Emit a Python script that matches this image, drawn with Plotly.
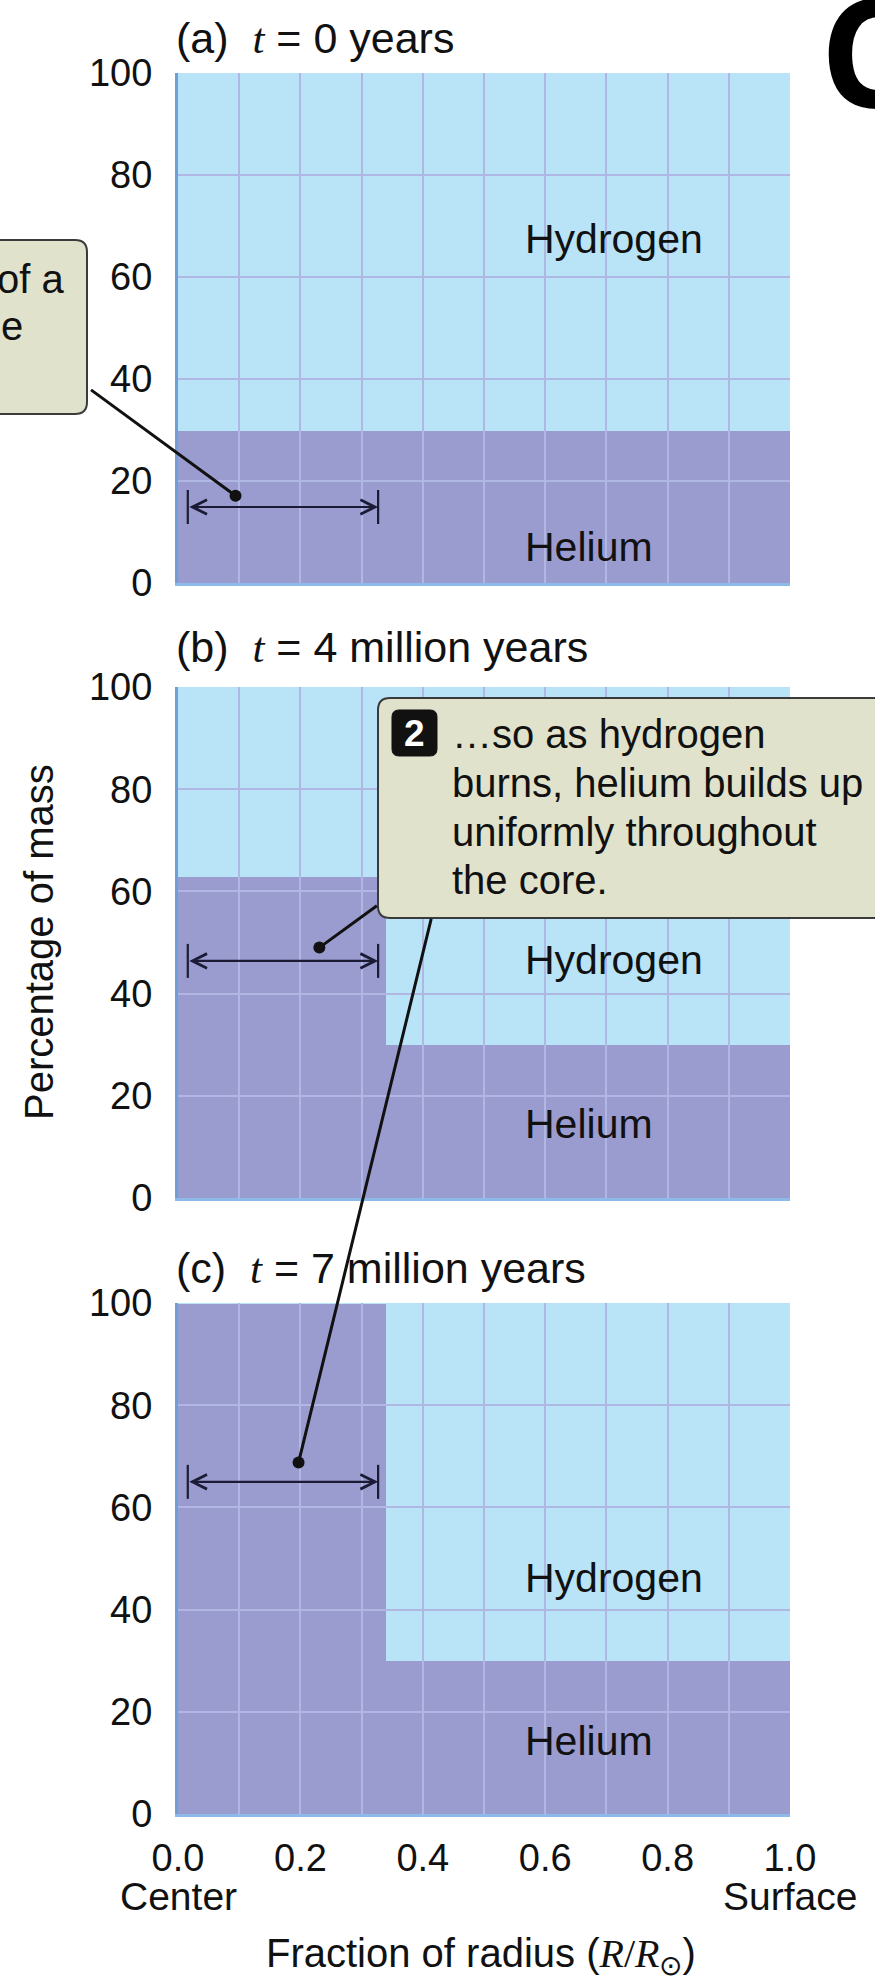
import plotly.graph_objects as go

# ---------------- data ----------------
panel_letters = ["(a)", "(b)", "(c)"]
panel_times = ["0 years", "4 million years", "7 million years"]
region_edges = [[0.0, 1.0], [0.0, 0.34, 1.0], [0.0, 0.34, 1.0]]   # fraction of radius
helium_pct = [[30], [63, 30], [100, 30]]
hydrogen_pct = [[70], [37, 70], [0, 70]]

x_tickvals = [0.0, 0.2, 0.4, 0.6, 0.8, 1.0]
x_ticktext = ["0.0", "0.2", "0.4", "0.6", "0.8", "1.0"]
x_end_labels = ["Center", "Surface"]
y_tickvals = [0, 20, 40, 60, 80, 100]
x_gridvals = [0.1, 0.2, 0.3, 0.4, 0.5, 0.6, 0.7, 0.8, 0.9]
y_gridvals = [20, 40, 60, 80]

core_arrow_x = [0.016, 0.327]
core_arrow_y = [14.9, 46.4, 65.0]
pointer_x = [0.094, 0.231, 0.197]
pointer_y = [17.1, 49.0, 68.8]

label_x = 0.564
hydrogen_label_y = [67.4, 46.6, 46.2]
helium_label_y = [7.1, 14.5, 14.3]

callout_lines = ["\u2026so as hydrogen", "burns, helium builds up",
                 "uniformly throughout", "the core."]

# ---------------- layout geometry ----------------
W, H = 875, 1986
ML, MR, MT, MB = 178, 85, 73, 172
PW = W - ML - MR
PH = H - MT - MB
BASE = H - MB
panel_top_px = [73, 687, 1303]
panel_bot_px = [583, 1198, 1814]
title_y_px = [38, 647, 1268]


def pxx(x):
    return (x - ML) / PW


def pyy(y):
    return (BASE - y) / PH


HYDROGEN = "#b9e3f7"
HELIUM = "#9a9bcf"
GRID = "#b0b7e2"
YLINE = "#6f9fd8"
XLINE = "#8dbbe9"
BOX_FILL = "#e1e2cb"
BOX_EDGE = "#3b3b3b"
INK = "#111111"
ARROW = "#1b1b35"
FONT = "Liberation Sans, Arial, Helvetica, sans-serif"


def rounded_rect(x0, y0, x1, y1, r):
    pts = [
        ("M", (x0 + r, y0)), ("L", (x1 - r, y0)), ("Q", (x1, y0), (x1, y0 + r)),
        ("L", (x1, y1 - r)), ("Q", (x1, y1), (x1 - r, y1)),
        ("L", (x0 + r, y1)), ("Q", (x0, y1), (x0, y1 - r)),
        ("L", (x0, y0 + r)), ("Q", (x0, y0), (x0 + r, y0)),
    ]
    s = ""
    for seg in pts:
        cmd = seg[0]
        coords = " ".join(f"{pxx(p[0]):.5f},{pyy(p[1]):.5f}" for p in seg[1:])
        s += f"{cmd}{coords} "
    return s + "Z"


fig = go.Figure()

for i in range(3):
    sfx = "" if i == 0 else str(i + 1)
    edges = region_edges[i]
    centers = [(a + b) / 2 for a, b in zip(edges[:-1], edges[1:])]
    widths = [b - a for a, b in zip(edges[:-1], edges[1:])]
    fig.add_trace(go.Bar(x=centers, y=helium_pct[i], width=widths, name="Helium",
                         marker=dict(color=HELIUM, line=dict(color=HELIUM, width=1)),
                         xaxis="x" + sfx, yaxis="y" + sfx, showlegend=False, hoverinfo="skip"))
    fig.add_trace(go.Bar(x=centers, y=hydrogen_pct[i], width=widths, name="Hydrogen",
                         marker=dict(color=HYDROGEN, line=dict(color=HYDROGEN, width=1)),
                         xaxis="x" + sfx, yaxis="y" + sfx, showlegend=False, hoverinfo="skip"))

# empty overlay subplots that carry the grid above the filled regions
for i in range(3):
    g = str(i + 4)
    fig.add_trace(go.Scatter(x=[], y=[], xaxis="x" + g, yaxis="y" + g,
                             showlegend=False, hoverinfo="skip"))

layout = dict(
    width=W, height=H, margin=dict(l=ML, r=MR, t=MT, b=MB, autoexpand=False),
    paper_bgcolor="white", plot_bgcolor="rgba(0,0,0,0)", barmode="stack",
    showlegend=False, hovermode=False, font=dict(family=FONT, color=INK),
)

tickfont = dict(family=FONT, size=38, color=INK)
for i in range(3):
    sfx = "" if i == 0 else str(i + 1)
    dom_y = [pyy(panel_bot_px[i]), pyy(panel_top_px[i])]
    layout["xaxis" + sfx] = dict(
        domain=[0, 1], range=[0, 1], anchor="y" + sfx, showgrid=False, zeroline=False,
        showline=True, linecolor=XLINE, linewidth=3, ticks="", tickmode="array",
        tickvals=x_tickvals, ticktext=x_ticktext, showticklabels=(i == 2),
        tickfont=tickfont, ticklabelstandoff=8, fixedrange=True)
    layout["yaxis" + sfx] = dict(
        domain=dom_y, range=[0, 100], anchor="x" + sfx, showgrid=False, zeroline=False,
        showline=True, linecolor=YLINE, linewidth=3, ticks="", tickmode="array",
        tickvals=y_tickvals, tickfont=tickfont, ticklabelstandoff=15, fixedrange=True)
    g = str(i + 4)
    layout["xaxis" + g] = dict(
        domain=[0, 1], range=[0, 1], anchor="y" + g, showgrid=True, gridcolor=GRID,
        gridwidth=2, tickmode="array", tickvals=x_gridvals, showticklabels=False,
        ticks="", zeroline=False, showline=False, fixedrange=True)
    layout["yaxis" + g] = dict(
        domain=dom_y, range=[0, 100], anchor="x" + g, showgrid=True, gridcolor=GRID,
        gridwidth=2, tickmode="array", tickvals=y_gridvals, showticklabels=False,
        ticks="", zeroline=False, showline=False, fixedrange=True)

shapes = []
annotations = []

# core-size double arrows with end bars
for i in range(3):
    sfx = "" if i == 0 else str(i + 1)
    for xv in core_arrow_x:
        shapes.append(dict(type="line", xref="x" + sfx, yref="y" + sfx,
                           x0=xv, x1=xv, ysizemode="pixel", yanchor=core_arrow_y[i],
                           y0=-17, y1=17, line=dict(color=ARROW, width=2.2)))
    annotations.append(dict(
        xref="x" + sfx, yref="y" + sfx, x=core_arrow_x[1], y=core_arrow_y[i],
        axref="x" + sfx, ayref="y" + sfx, ax=core_arrow_x[0], ay=core_arrow_y[i],
        text="", showarrow=True, arrowside="end+start", arrowhead=5, startarrowhead=5,
        arrowsize=1.3, startarrowsize=1.3, arrowwidth=2.2, arrowcolor=ARROW,
        standoff=0, startstandoff=0, font=dict(size=1)))

# callout boxes
shapes.append(dict(type="path", xref="paper", yref="paper",
                   path=rounded_rect(-30, 240, 87, 414, 12),
                   fillcolor=BOX_FILL, line=dict(color=BOX_EDGE, width=2)))
shapes.append(dict(type="path", xref="paper", yref="paper",
                   path=rounded_rect(378, 698, 895, 918, 12),
                   fillcolor=BOX_FILL, line=dict(color=BOX_EDGE, width=2)))
shapes.append(dict(type="path", xref="paper", yref="paper",
                   path=rounded_rect(392, 710, 437, 756, 7),
                   fillcolor="#111111", line=dict(color="#111111", width=1)))

# leader lines with dots
leader_offsets = [(-146, -107), (59, -43), (133, -545)]
for i in range(3):
    sfx = "" if i == 0 else str(i + 1)
    annotations.append(dict(
        xref="x" + sfx, yref="y" + sfx, x=pointer_x[i], y=pointer_y[i],
        ax=leader_offsets[i][0], ay=leader_offsets[i][1], text="", showarrow=True,
        arrowhead=6, arrowsize=1.0, arrowwidth=3, arrowcolor=INK, standoff=0,
        font=dict(size=1)))

# panel titles and region labels
for i in range(3):
    sfx = "" if i == 0 else str(i + 1)
    annotations.append(dict(
        xref="paper", yref="paper", x=pxx(174), y=pyy(title_y_px[i]),
        xanchor="left", yanchor="middle", showarrow=False,
        text=(panel_letters[i] + "  <span style=\"font-family:Liberation Serif\"><i>t</i></span>"
              + " = " + panel_times[i]),
        font=dict(family=FONT, size=43, color=INK)))
    annotations.append(dict(
        xref="x" + sfx, yref="y" + sfx, x=label_x, y=hydrogen_label_y[i],
        xanchor="left", yanchor="middle", showarrow=False, text="Hydrogen",
        font=dict(family=FONT, size=41, color=INK)))
    annotations.append(dict(
        xref="x" + sfx, yref="y" + sfx, x=label_x, y=helium_label_y[i],
        xanchor="left", yanchor="middle", showarrow=False, text="Helium",
        font=dict(family=FONT, size=41, color=INK)))

# end labels under the x axis of the bottom panel
for xv, txt in zip([x_tickvals[0], x_tickvals[-1]], x_end_labels):
    annotations.append(dict(xref="x3", yref="paper", x=xv, y=pyy(1897),
                            xanchor="center", yanchor="middle", showarrow=False, text=txt,
                            font=dict(family=FONT, size=39, color=INK)))

# callout texts
annotations.append(dict(xref="paper", yref="paper", x=pxx(66), y=pyy(279),
                        xanchor="right", yanchor="middle", showarrow=False, text="of a",
                        font=dict(family=FONT, size=40, color=INK)))
annotations.append(dict(xref="paper", yref="paper", x=pxx(-1), y=pyy(326),
                        xanchor="left", yanchor="middle", showarrow=False, text="e",
                        font=dict(family=FONT, size=40, color=INK)))
annotations.append(dict(xref="paper", yref="paper", x=pxx(414.5), y=pyy(733),
                        xanchor="center", yanchor="middle", showarrow=False, text="<b>2</b>",
                        font=dict(family=FONT, size=37, color="white")))
line_centers = [734, 783, 832, 880]
for txt, yc in zip(callout_lines, line_centers):
    annotations.append(dict(xref="paper", yref="paper", x=pxx(450), y=pyy(yc),
                            xanchor="left", yanchor="middle", showarrow=False, text=txt,
                            font=dict(family=FONT, size=40, color=INK)))

# axis titles
annotations.append(dict(xref="paper", yref="paper", x=pxx(39), y=pyy(942),
                        xanchor="center", yanchor="middle", showarrow=False, textangle=-90,
                        text="Percentage of mass", font=dict(family=FONT, size=40, color=INK)))
annotations.append(dict(
    xref="paper", yref="paper", x=pxx(481), y=pyy(1956), xanchor="center", yanchor="middle",
    showarrow=False,
    text=("Fraction of radius (<span style=\"font-family:Liberation Serif\"><i>R</i>/<i>R</i>"
          "<sub>\u2299</sub></span>)"),
    font=dict(family=FONT, size=40, color=INK)))

# large cut-off letter at the top right
annotations.append(dict(xref="paper", yref="paper", x=pxx(818), y=pyy(50),
                        xanchor="left", yanchor="middle", showarrow=False, text="<b>C</b>",
                        font=dict(family="Open Sans, Noto Sans, sans-serif", size=150,
                                  color="#000000")))

layout["shapes"] = shapes
layout["annotations"] = annotations
fig.update_layout(**layout)

fig.write_html("out.html", config={"displayModeBar": False, "staticPlot": True},
               post_script="document.body.style.margin='0px';")
